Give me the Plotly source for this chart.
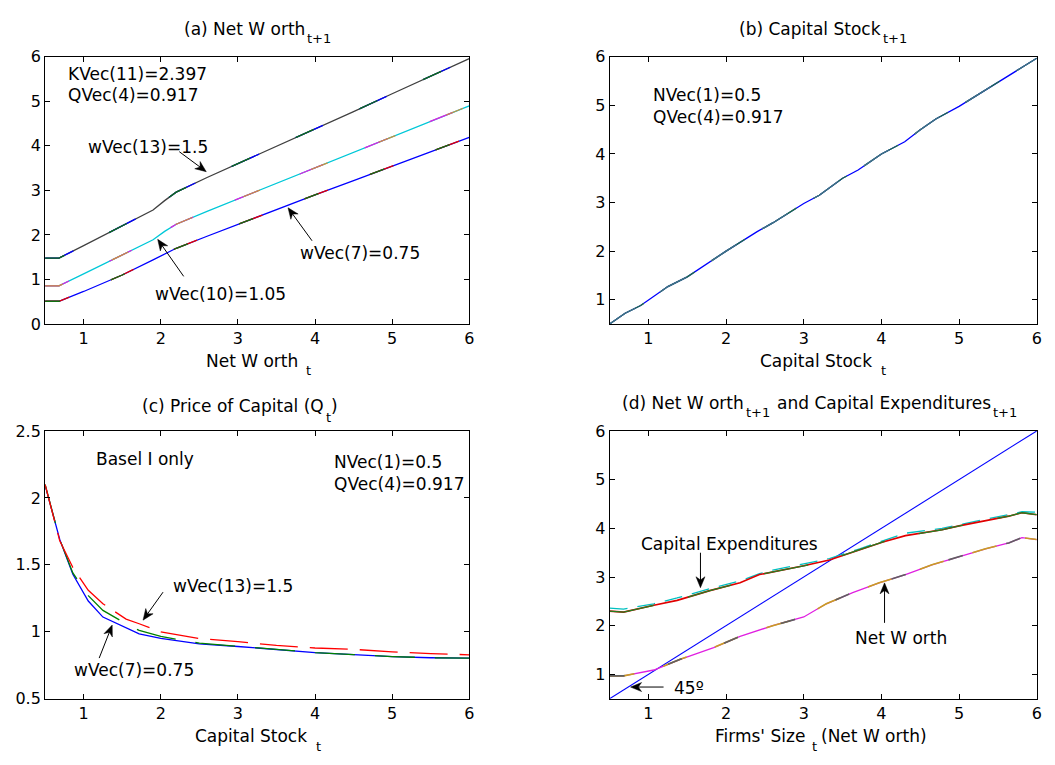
import math
import plotly.graph_objects as go

W, H = 1055, 765
FONT = "DejaVu Sans"

# ---------------- data ----------------
# (a) Net Worth t+1 vs Net Worth t
a_x = [0.5, 0.68, 1.0, 1.5, 1.9, 2.05, 2.2, 2.6, 3.0, 3.5, 4.0, 4.5, 5.0, 5.5, 6.0]
a_w13 = [1.48, 1.48, 1.76, 2.20, 2.56, 2.77, 2.96, 3.29, 3.60, 3.99, 4.38, 4.77, 5.17, 5.57, 5.96]
a_w10 = [0.855, 0.855, 1.125, 1.55, 1.89, 2.08, 2.24, 2.53, 2.81, 3.16, 3.51, 3.86, 4.21, 4.56, 4.90]
a_w7 = [0.51, 0.51, 0.73, 1.10, 1.44, 1.57, 1.70, 1.97, 2.24, 2.57, 2.90, 3.22, 3.54, 3.87, 4.19]

# (b) Capital Stock t+1 vs Capital Stock t
b_x = [0.5, 0.7, 0.9, 1.25, 1.5, 2.0, 2.4, 2.6, 3.0, 3.2, 3.5, 3.7, 4.0, 4.3, 4.5, 4.7, 5.0, 5.4, 5.6, 6.0]
b_y = [0.5, 0.72, 0.88, 1.27, 1.47, 2.0, 2.4, 2.58, 2.98, 3.15, 3.5, 3.67, 4.0, 4.25, 4.5, 4.72, 4.98, 5.37, 5.57, 5.97]

# (c) Price of capital
c_x = [0.5, 0.69, 0.86, 1.06, 1.25, 1.55, 1.72, 2.0, 2.5, 3.0, 3.5, 4.0, 4.5, 5.0, 5.5, 6.0]
c_w7 = [2.095, 1.69, 1.43, 1.23, 1.11, 1.03, 0.985, 0.95, 0.91, 0.89, 0.865, 0.845, 0.83, 0.815, 0.806, 0.803]
c_mid = [2.10, 1.69, 1.44, 1.27, 1.16, 1.06, 1.01, 0.965, 0.915, 0.89, 0.865, 0.845, 0.83, 0.815, 0.806, 0.803]
c_w13 = [2.10, 1.68, 1.48, 1.31, 1.21, 1.095, 1.06, 1.00, 0.95, 0.927, 0.898, 0.879, 0.869, 0.85, 0.837, 0.828]

# (d) Net worth and capital expenditures
d_line45 = [0.5, 6.0]
d_cx = [0.5, 0.68, 1.07, 1.37, 1.79, 2.18, 2.43, 2.6, 3.0, 3.33, 3.72, 4.02, 4.31, 4.78, 5.0, 5.34, 5.64, 5.81, 6.0]
d_capex = [2.30, 2.28, 2.42, 2.52, 2.72, 2.88, 3.05, 3.10, 3.23, 3.35, 3.55, 3.72, 3.85, 3.97, 4.05, 4.15, 4.25, 4.32, 4.28]
d_capex2 = [2.36, 2.34, 2.45, 2.57, 2.76, 2.92, 3.07, 3.14, 3.27, 3.38, 3.58, 3.75, 3.90, 4.00, 4.07, 4.18, 4.28, 4.34, 4.33]
d_nx = [0.5, 0.68, 1.07, 1.41, 1.84, 2.18, 2.6, 3.0, 3.29, 3.63, 3.97, 4.31, 4.65, 5.0, 5.34, 5.64, 5.81, 6.0]
d_nw = [0.97, 0.97, 1.09, 1.31, 1.55, 1.78, 2.0, 2.18, 2.45, 2.68, 2.88, 3.05, 3.25, 3.42, 3.58, 3.70, 3.81, 3.77]

x_ticks = [1, 2, 3, 4, 5, 6]

# ---------------- figure ----------------
fig = go.Figure()


def line(x, y, color, xa, ya, dash="solid", width=1.3):
    fig.add_trace(go.Scatter(x=x, y=y, mode="lines", xaxis=xa, yaxis=ya,
                             line=dict(color=color, width=width, dash=dash),
                             showlegend=False, hoverinfo="skip"))


# (a)
line(a_x, a_w13, "#404040", "x", "y")
line(a_x, a_w13, "#0000ff", "x", "y", dash="30px,40px")
line(a_x, a_w13, "#107010", "x", "y", dash="20px,50px")
line(a_x, a_w10, "#00c8d8", "x", "y")
line(a_x, a_w10, "#e020e0", "x", "y", dash="25px,45px")
line(a_x, a_w10, "#c89040", "x", "y", dash="18px,55px")
line(a_x, a_w7, "#0000ff", "x", "y")
line(a_x, a_w7, "#e00000", "x", "y", dash="25px,45px")
line(a_x, a_w7, "#107010", "x", "y", dash="15px,55px")

# (b)
line(b_x, b_y, "#0000ff", "x2", "y2")
line(b_x, b_y, "#207040", "x2", "y2", dash="40px,20px")
line(b_x, b_y, "#40708a", "x2", "y2", dash="30px,30px")

# (c)
line(c_x, c_w7, "#0000ff", "x3", "y3")
line(c_x, c_mid, "#008000", "x3", "y3", dash="40px,20px")
line(c_x, c_w13, "#ff0000", "x3", "y3", dash="38px,12px")

# (d)
line(d_line45, d_line45, "#0000ff", "x4", "y4", width=1.1)
line(d_cx, d_capex2, "#00c0c0", "x4", "y4", dash="18px,10px")
line(d_cx, d_capex, "#e00000", "x4", "y4", width=1.6)
line(d_cx, d_capex, "#208020", "x4", "y4", dash="45px,35px")
line(d_nx, d_nw, "#e020e0", "x4", "y4")
line(d_nx, d_nw, "#c8a020", "x4", "y4", dash="25px,30px", width=1.6)
line(d_nx, d_nw, "#606060", "x4", "y4", dash="15px,45px", width=1.6)

# ---------------- axes ----------------
axis_common = dict(showline=True, linecolor="black", linewidth=1, mirror="ticks",
                   ticks="inside", ticklen=5, tickcolor="black", showgrid=False,
                   zeroline=False, tickfont=dict(family=FONT, size=16, color="black"))

xl = [45.3 / W, 471.5 / W]
xr = [612.5 / W, 1041.7 / W]
yt = [1 - 323 / H, 1 - 49 / H]
yb = [1 - 707.3 / H, 1 - 432.7 / H]

fig.update_layout(
    xaxis=dict(domain=xl, range=[0.5, 6], tickvals=x_ticks, anchor="y", **axis_common),
    yaxis=dict(domain=yt, range=[0, 6], tickvals=[0, 1, 2, 3, 4, 5, 6], anchor="x", **axis_common),
    xaxis2=dict(domain=xr, range=[0.5, 6], tickvals=x_ticks, anchor="y2", **axis_common),
    yaxis2=dict(domain=yt, range=[0.5, 6], tickvals=[1, 2, 3, 4, 5, 6], anchor="x2", **axis_common),
    xaxis3=dict(domain=xl, range=[0.5, 6], tickvals=x_ticks, anchor="y3", **axis_common),
    yaxis3=dict(domain=yb, range=[0.5, 2.5], tickvals=[0.5, 1, 1.5, 2, 2.5],
                ticktext=["0.5", "1", "1.5", "2", "2.5"], anchor="x3", **axis_common),
    xaxis4=dict(domain=xr, range=[0.5, 6], tickvals=x_ticks, anchor="y4", **axis_common),
    yaxis4=dict(domain=yb, range=[0.5, 6], tickvals=[1, 2, 3, 4, 5, 6], anchor="x4", **axis_common),
    width=W, height=H, autosize=False,
    margin=dict(l=0, r=0, t=0, b=0),
    paper_bgcolor="white", plot_bgcolor="white",
    font=dict(family=FONT, size=17, color="black"),
)

ann = []
shapes = []
TS = 17
SS = 13


def ptext(text, px, py, size=TS, xanchor="center"):
    ann.append(dict(text=text, x=px / W, y=1 - py / H, xref="paper", yref="paper",
                    showarrow=False, xanchor=xanchor, yanchor="middle",
                    font=dict(family=FONT, size=size, color="black")))


def dtext(text, x, y, xr_, yr_, xanchor="left"):
    ann.append(dict(text=text, x=x, y=y, xref=xr_, yref=yr_, showarrow=False,
                    xanchor=xanchor, yanchor="middle",
                    font=dict(family=FONT, size=TS, color="black")))


def arrow(x, y, ax, ay, xr_, yr_, L=11, hw=4.5):
    """Arrow pointing at data point (x, y); tail offset (ax, ay) in screen pixels."""
    n = math.hypot(ax, ay)
    ux, uy = -ax / n, ay / n
    px_, py_ = -uy, ux
    shapes.append(dict(type="line", xref=xr_, yref=yr_, xsizemode="pixel", ysizemode="pixel",
                       xanchor=x, yanchor=y, x0=ax, y0=-ay, x1=-ux * L * 0.6, y1=-uy * L * 0.6,
                       line=dict(color="black", width=1)))
    bx, by = -ux * L, -uy * L
    nx_, ny_ = -ux * L * 0.7, -uy * L * 0.7
    path = (f"M0,0 L{bx + px_ * hw:.2f},{by + py_ * hw:.2f} "
            f"L{nx_:.2f},{ny_:.2f} L{bx - px_ * hw:.2f},{by - py_ * hw:.2f} Z")
    shapes.append(dict(type="path", xref=xr_, yref=yr_, xsizemode="pixel", ysizemode="pixel",
                       xanchor=x, yanchor=y, path=path, fillcolor="black",
                       line=dict(color="black", width=0.5)))


# titles (main text + separately placed subscripts)
ptext("(a) Net W orth", 308, 20, xanchor="right")
ptext("t+1", 306, 30, size=SS, xanchor="left")
ptext("(b) Capital Stock", 887, 20, xanchor="right")
ptext("t+1", 885, 30, size=SS, xanchor="left")
ptext("(c) Price of Capital (Q", 328, 407, xanchor="right")
ptext("t", 326, 419, size=SS, xanchor="left")
ptext(")", 331, 407, xanchor="left")
ptext("(d) Net W orth", 750, 404, xanchor="right")
ptext("t+1", 748, 414, size=SS, xanchor="left")
ptext("and Capital Expenditures", 779, 404, xanchor="left")
ptext("t+1", 996, 414, size=SS, xanchor="left")

# axis titles
ptext("Net W orth", 301, 361, xanchor="right")
ptext("t", 305, 371, size=SS, xanchor="left")
ptext("Capital Stock", 878, 361, xanchor="right")
ptext("t", 883, 371, size=SS, xanchor="left")
ptext("Capital Stock", 310, 746, xanchor="right")
ptext("t", 315, 756, size=SS, xanchor="left")
ptext("Firms' Size", 811, 746, xanchor="right")
ptext("t", 814, 756, size=SS, xanchor="left")
ptext("(Net W orth)", 823, 746, xanchor="left")

# (a) annotations
dtext("KVec(11)=2.397", 0.77, 5.61, "x", "y")
dtext("QVec(4)=0.917", 0.77, 5.14, "x", "y")
dtext("wVec(13)=1.5", 1.83, 3.97, "x", "y", xanchor="center")
dtext("wVec(7)=0.75", 4.58, 1.60, "x", "y", xanchor="center")
dtext("wVec(10)=1.05", 2.77, 0.68, "x", "y", xanchor="center")
arrow(2.59, 3.42, -27, -20, "x", "y")
arrow(3.65, 2.61, 24, 33, "x", "y")
arrow(1.96, 1.90, 26, 37, "x", "y")

# (b) annotations
dtext("NVec(1)=0.5", 1.03, 5.21, "x2", "y2")
dtext("QVec(4)=0.917", 1.03, 4.77, "x2", "y2")

# (c) annotations
dtext("Basel I only", 1.14, 2.29, "x3", "y3")
dtext("NVec(1)=0.5", 4.22, 2.265, "x3", "y3")
dtext("QVec(4)=0.917", 4.22, 2.107, "x3", "y3")
dtext("wVec(13)=1.5", 2.13, 1.342, "x3", "y3")
dtext("wVec(7)=0.75", 0.854, 0.711, "x3", "y3")
arrow(1.77, 1.087, 20, -28, "x3", "y3")
arrow(1.37, 1.05, -13, 33, "x3", "y3")

# (d) annotations
dtext("Capital Expenditures", 0.878, 3.68, "x4", "y4")
dtext("Net W orth", 3.63, 1.75, "x4", "y4")
dtext("45º", 1.30, 0.72, "x4", "y4")
arrow(1.67, 2.78, 0, -35, "x4", "y4")
arrow(4.04, 2.88, 0, 40, "x4", "y4")
arrow(0.77, 0.74, 33, 0, "x4", "y4")

fig.update_layout(annotations=ann, shapes=shapes)
fig.write_html("out.html", config={"displayModeBar": False},
               post_script="document.body.style.margin='0';document.body.style.overflow='hidden';")
